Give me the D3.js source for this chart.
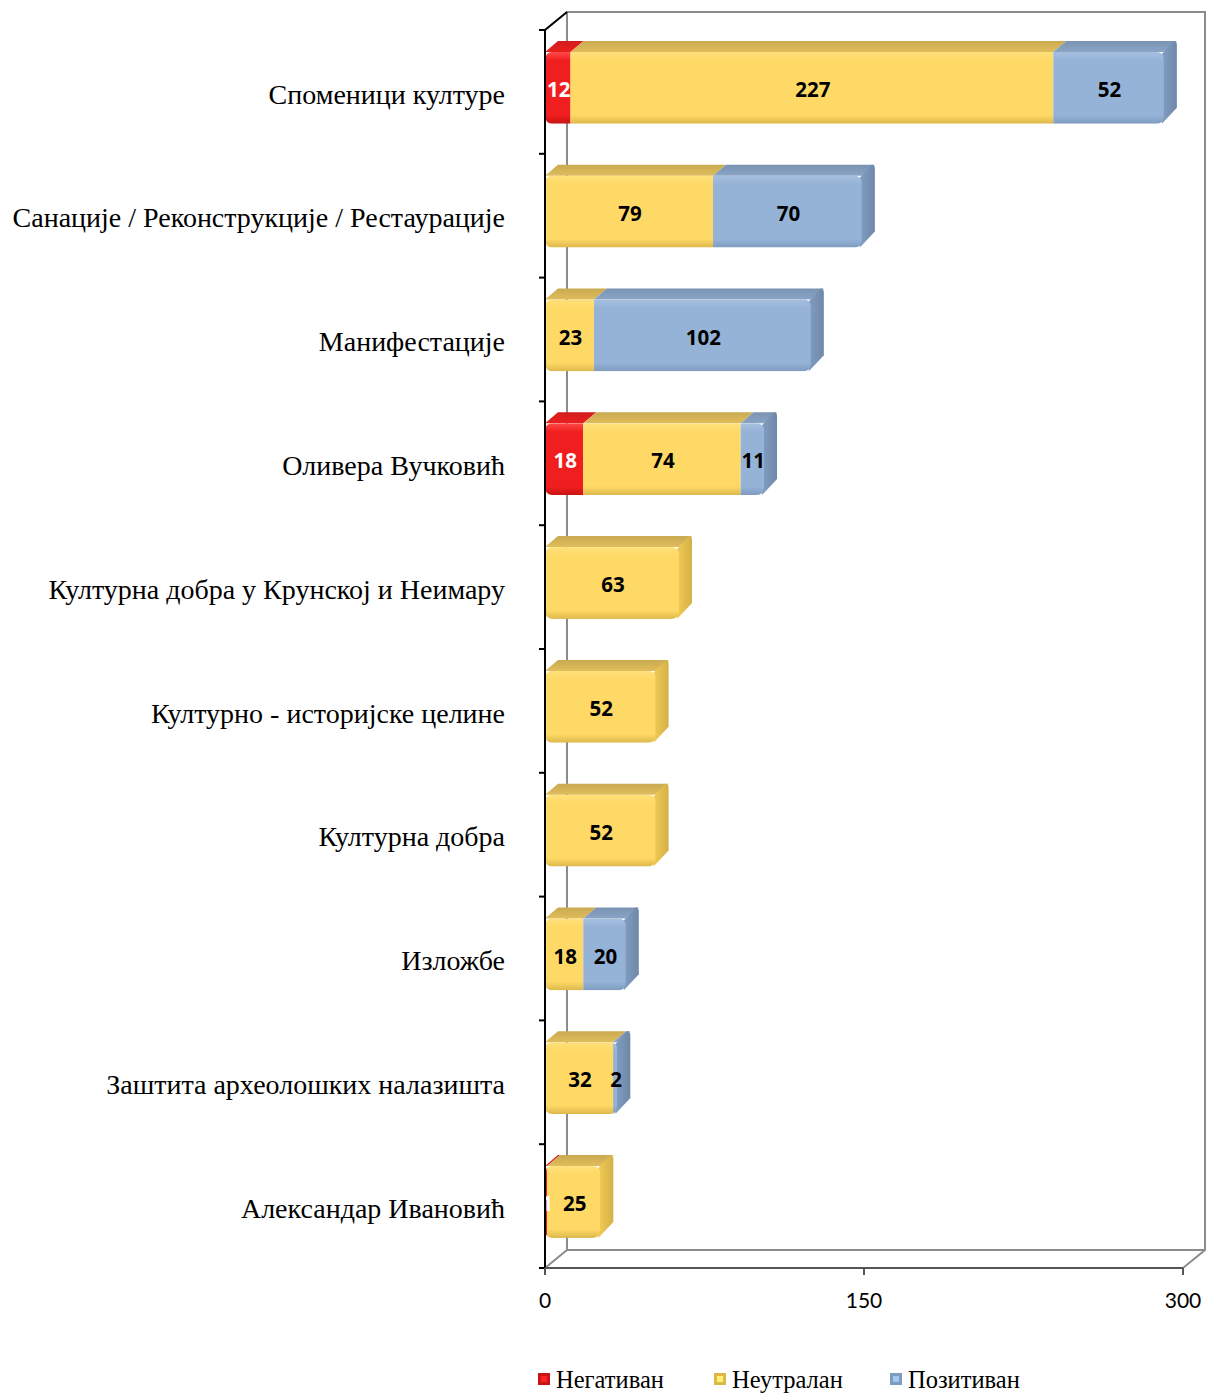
<!DOCTYPE html>
<html><head><meta charset="utf-8">
<script src="https://cdn.jsdelivr.net/npm/d3@7"></script>
<style>body{margin:0;background:#fff}svg{display:block}</style>
</head><body>
<svg id="c" width="1206" height="1393"></svg>
<script>
const categories = ["Споменици културе","Санације / Реконструкције / Рестаурације","Манифестације","Оливера Вучковић","Културна добра у Крунској и Неимару","Културно - историјске целине","Културна добра","Изложбе","Заштита археолошких налазишта","Александар Ивановић"];
const negativan = [12,0,0,18,0,0,0,0,0,1];
const neutralan = [227,79,23,74,63,52,52,18,32,25];
const pozitivan = [52,70,102,11,0,0,0,20,2,0];
const seriesNames = ["Негативан","Неутралан","Позитиван"];
const tickValues = [0,150,300];

const svg = d3.select("#c");
const x = d3.scaleLinear().domain([0,300]).range([545,1183]);
const y = d3.scaleBand().domain(categories).range([30,1268]).padding(0);
const bw = y.bandwidth();
const DX = 13, DY = 11, WX = 22, WY = 18;

const colors = [
  {front:["#ff4a4a","#f01e1e","#c81414"], top:"#d21c1c", side:"#b01515", text:"#fff"},
  {front:["#ffe07a","#ffd966","#dcb84c"], top:"#c9aa52", side:"#d3b048", text:"#000"},
  {front:["#a6bfdf","#95b3d7","#7f9cc0"], top:"#7b93b2", side:"#6f88a8", text:"#000"}
];
const defs = svg.append("defs");
colors.forEach((c,i)=>{
  const g = defs.append("linearGradient").attr("id","g"+i).attr("x1",0).attr("y1",0).attr("x2",0).attr("y2",1);
  g.append("stop").attr("offset","0").attr("stop-color",c.front[0]);
  g.append("stop").attr("offset","0.12").attr("stop-color",c.front[1]);
  g.append("stop").attr("offset","0.88").attr("stop-color",c.front[1]);
  g.append("stop").attr("offset","1").attr("stop-color",c.front[2]);
  const t = defs.append("linearGradient").attr("id","t"+i).attr("x1",0).attr("y1",1).attr("x2",0).attr("y2",0);
  t.append("stop").attr("offset","0").attr("stop-color",d3.color(c.top).brighter(0.3));
  t.append("stop").attr("offset","1").attr("stop-color",c.top);
  const s = defs.append("linearGradient").attr("id","s"+i).attr("x1",0).attr("y1",0).attr("x2",1).attr("y2",0);
  s.append("stop").attr("offset","0").attr("stop-color",d3.color(c.side).brighter(0.4));
  s.append("stop").attr("offset","1").attr("stop-color",c.side);
});

// back wall & floor
const wall = svg.append("g").attr("fill","none");
wall.append("path").attr("d",`M${x(0)+WX},${y.range()[1]-WY}V12H${x(300)+WX}V${y.range()[1]-WY}`).attr("stroke","#8c8c8c").attr("stroke-width",2);
wall.append("path").attr("d",`M${x(0)},${y.range()[1]}L${x(0)+WX},${y.range()[1]-WY}H${x(300)+WX}L${x(300)},${y.range()[1]}`).attr("stroke","#8c8c8c").attr("stroke-width",2);

// bars
const rows = categories.map((c,i)=>({c, v:[negativan[i],neutralan[i],pozitivan[i]]}));
rows.forEach((r,ri)=>{
  const g = svg.append("g");
  const yt = y(r.c) + bw*0.177, h = bw*0.58;
  let acc = 0;
  const segs = [];
  r.v.forEach((v,si)=>{ if(v>0){ segs.push({si,v,x0:x(acc),x1:x(acc+v)}); } acc+=v; });
  const clipId = "clip"+ri;
  const x0 = segs[0].x0, x1 = segs[segs.length-1].x1;
  defs.append("clipPath").attr("id",clipId).append("rect").attr("x",x0).attr("y",yt).attr("width",x1-x0).attr("height",h).attr("rx",7);
  segs.forEach(s=>{
    g.append("path").attr("d",`M${s.x0},${yt}L${s.x0+DX},${yt-DY}L${s.x1+DX},${yt-DY}L${s.x1},${yt}Z`).attr("fill",`url(#t${s.si})`);
  });
  const last = segs[segs.length-1];
  g.append("path").attr("d",`M${last.x1-2},${yt+2}L${last.x1+DX-3},${yt-DY}Q${last.x1+DX},${yt-DY} ${last.x1+DX},${yt-DY+4}L${last.x1+DX},${yt+h-DY-5}L${last.x1-2},${yt+h}Z`).attr("fill",`url(#s${last.si})`);
  const fg = g.append("g").attr("clip-path",`url(#${clipId})`);
  segs.forEach(s=>{
    fg.append("rect").attr("x",s.x0).attr("y",yt).attr("width",s.x1-s.x0).attr("height",h).attr("fill",`url(#g${s.si})`);
  });
  segs.forEach(s=>{
    g.append("text").attr("x",(s.x0+s.x1)/2 + 1).attr("y",yt+h/2).attr("dy","0.45em")
      .attr("text-anchor","middle").attr("font-family","'Open Sans', sans-serif").attr("font-weight",700)
      .attr("font-size",20.5).attr("fill",colors[s.si].text).text(s.v);
  });
});

// left axis
const ax = svg.append("g").attr("stroke","#000").attr("stroke-width",2).attr("fill","none");
ax.append("path").attr("d",`M${x(0)+WX},12L${x(0)},30V${y.range()[1]+1}`);
const bounds = categories.map(c=>y(c)).concat([y.range()[1]]);
bounds.forEach(b=> ax.append("line").attr("x1",x(0)-6).attr("x2",x(0)).attr("y1",b).attr("y2",b));
// bottom axis
const bx = svg.append("g").attr("stroke","#555").attr("stroke-width",2);
bx.append("line").attr("x1",x(0)).attr("x2",x(300)).attr("y1",y.range()[1]).attr("y2",y.range()[1]);
tickValues.forEach(t=> bx.append("line").attr("x1",x(t)).attr("x2",x(t)).attr("y1",y.range()[1]).attr("y2",y.range()[1]+7));
svg.append("g").selectAll("text").data(tickValues).join("text")
  .attr("x",d=>x(d)).attr("y",1308).attr("text-anchor","middle")
  .attr("font-family","Lato, 'Open Sans', sans-serif").attr("font-size",21).attr("fill","#000").text(d=>d);

// category labels
svg.append("g").selectAll("text").data(categories).join("text")
  .attr("x",505).attr("y",c=>y(c)+bw/2).attr("dy","0.42em").attr("text-anchor","end")
  .attr("font-family","'Liberation Serif', 'Times New Roman', serif").attr("font-size",28).attr("fill","#000").text(c=>c);

// legend
const legX = [538,714,890];
const lg = svg.append("g");
seriesNames.forEach((n,i)=>{
  lg.append("rect").attr("x",legX[i]).attr("y",1373).attr("width",12).attr("height",12).attr("fill",colors[i].front[2]);
  lg.append("rect").attr("x",legX[i]+3).attr("y",1376).attr("width",6).attr("height",6).attr("fill",d3.color(colors[i].front[1]).brighter(0.3));
  lg.append("text").attr("x",legX[i]+18).attr("y",1388).attr("font-family","'Liberation Serif', serif").attr("font-size",24.5).attr("fill","#000").text(n);
});
</script>
</body></html>
